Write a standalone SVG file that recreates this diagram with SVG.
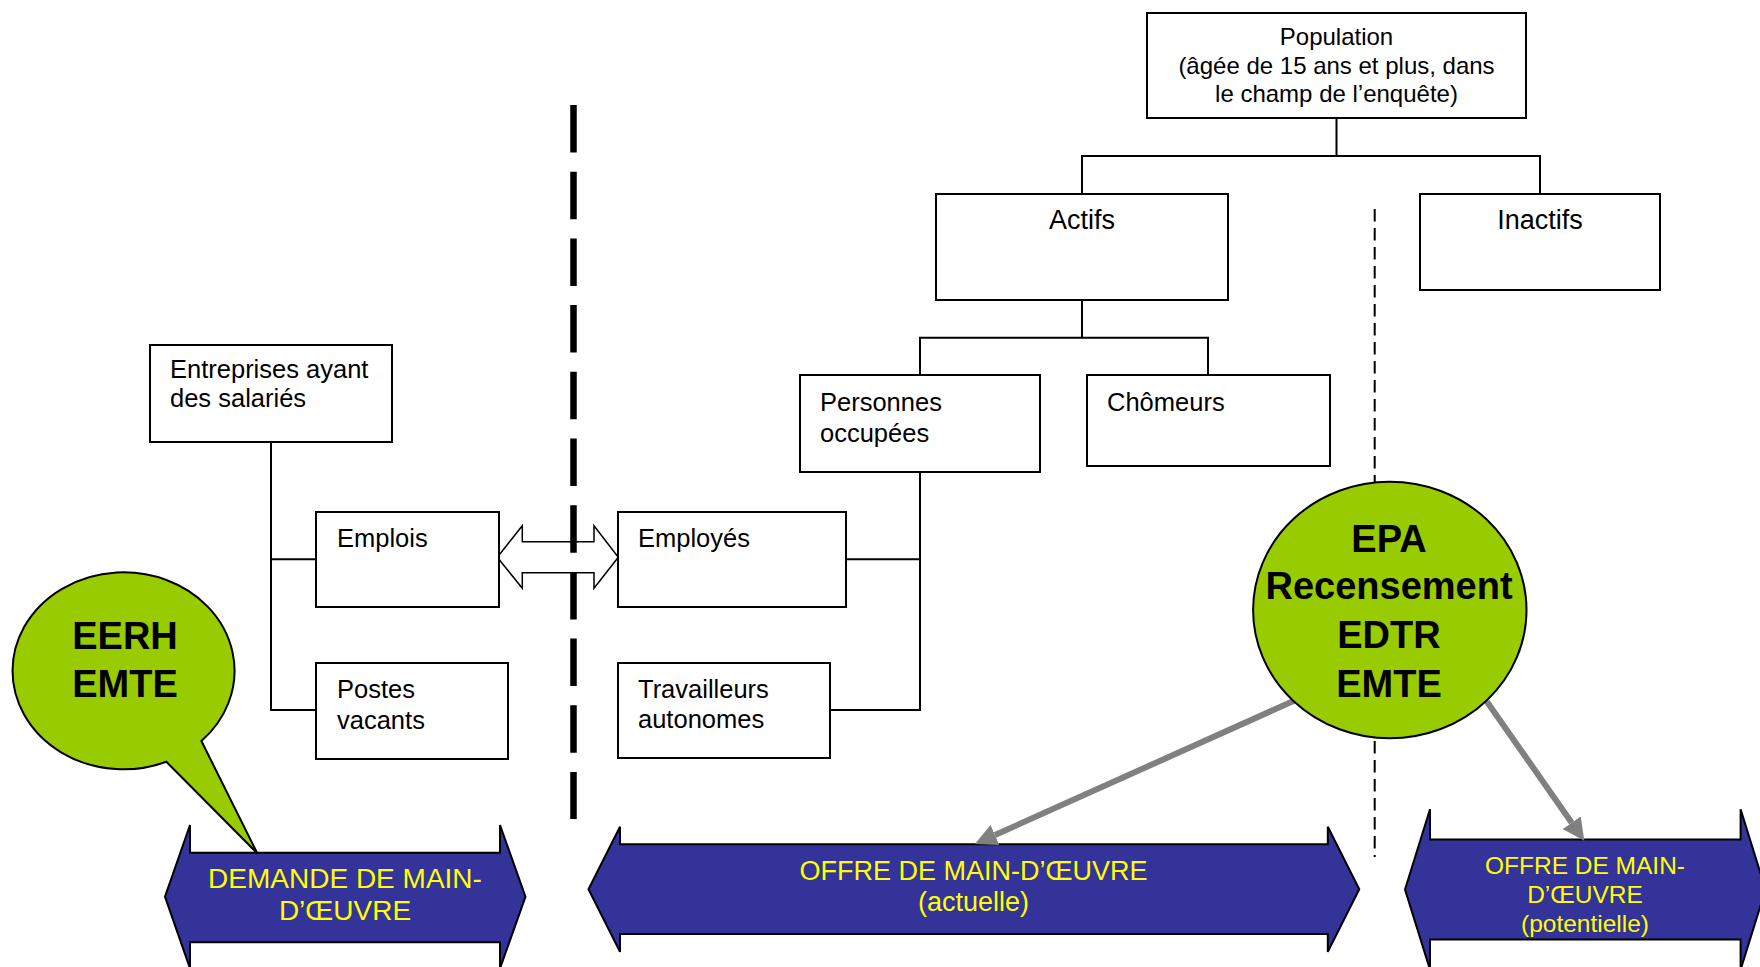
<svg xmlns="http://www.w3.org/2000/svg" width="1760" height="967" viewBox="0 0 1760 967">
<style>
  .box { fill: #ffffff; stroke: #000000; stroke-width: 2; }
  .lbl { font-family: "Liberation Sans", Arial, sans-serif; font-size: 25.5px; fill: #000000; }
  .pop { font-family: "Liberation Sans", Arial, sans-serif; font-size: 24px; fill: #000000; text-anchor: middle; }
  .big { font-family: "Liberation Sans", Arial, sans-serif; font-size: 27px; fill: #000000; text-anchor: middle; }
  .bub { fill: #99CC00; stroke: #000000; stroke-width: 2; }
  .bubtxt { font-family: "Liberation Sans", Arial, sans-serif; font-size: 38px; font-weight: bold; fill: #000000; text-anchor: middle; }
  .band { fill: #333399; stroke: #000000; stroke-width: 2; stroke-linejoin: miter; }
  .bandtxt { font-family: "Liberation Sans", Arial, sans-serif; fill: #FFFF00; text-anchor: middle; }
  .conn { fill: none; stroke: #000000; stroke-width: 2; }
  .gray { fill: none; stroke: #808080; stroke-width: 6; }
</style>
<defs>
  <marker id="grayhead" markerUnits="userSpaceOnUse" viewBox="0 0 22 22" markerWidth="22" markerHeight="22" refX="0" refY="11" orient="auto">
    <path d="M0,0 L22,11 L0,22 Z" fill="#808080"/>
  </marker>
</defs>

<!-- bottom bands -->
<g id="demande">
  <polygon class="band" points="165,896.7 190,825 190,852.7 500,852.7 500,825 525.5,896.7 500,968.4 500,942.3 190,942.3 190,968.4"/>
  <text class="bandtxt" x="345" y="888.3" font-size="28">DEMANDE DE MAIN-</text>
  <text class="bandtxt" x="345" y="919.5" font-size="28">D’ŒUVRE</text>
</g>
<g id="offre-actuelle">
  <polygon class="band" points="588.5,889.3 620,826.7 620,844.2 1327.8,844.2 1327.8,826.7 1359.3,889.3 1327.8,951.9 1327.8,934 620,934 620,951.9"/>
  <text class="bandtxt" x="973.5" y="880" font-size="27">OFFRE DE MAIN-D’ŒUVRE</text>
  <text class="bandtxt" x="973.5" y="910.5" font-size="27">(actuelle)</text>
</g>
<g id="offre-potentielle">
  <polygon class="band" points="1405,889.5 1430,809.3 1430,839.6 1740.6,839.6 1740.6,809.3 1765.6,889.5 1740.6,969.7 1740.6,939.4 1430,939.4 1430,969.7"/>
  <text class="bandtxt" x="1585" y="874" font-size="24.5">OFFRE DE MAIN-</text>
  <text class="bandtxt" x="1585" y="902.7" font-size="24.5">D’ŒUVRE</text>
  <text class="bandtxt" x="1585" y="931.5" font-size="24.5">(potentielle)</text>
</g>

<!-- connectors -->
<g id="connectors">
  <polyline class="conn" points="1336.5,118 1336.5,156"/>
  <polyline class="conn" points="1082,194 1082,156 1540,156 1540,194"/>
  <polyline class="conn" points="1082,300 1082,337.7"/>
  <polyline class="conn" points="920,375 920,337.7 1208,337.7 1208,375"/>
  <polyline class="conn" points="920,472 920,710 830,710"/>
  <polyline class="conn" points="846,559.3 920,559.3"/>
  <polyline class="conn" points="271,442 271,710 316,710"/>
  <polyline class="conn" points="271,559.3 316,559.3"/>
  <polygon fill="#ffffff" stroke="#000000" stroke-width="1.5" points="497.3,557.3 522.3,525.7 522.3,541.7 594,541.7 594,525.7 618.3,557.3 594,588.3 594,572.7 522.3,572.7 522.3,588.3"/>
  <line x1="573.5" y1="105" x2="573.5" y2="819" stroke="#000000" stroke-width="6.5" stroke-dasharray="47.5 19.2"/>
  <line x1="1374.7" y1="209" x2="1374.7" y2="857" stroke="#000000" stroke-width="2" stroke-dasharray="12.5 6.5"/>
  <line class="gray" x1="1294.5" y1="700.5" x2="995" y2="835" marker-end="url(#grayhead)"/>
  <line class="gray" x1="1487" y1="701.7" x2="1571.7" y2="822.7" marker-end="url(#grayhead)"/>
</g>

<!-- boxes -->
<g id="population">
  <rect class="box" x="1147" y="13" width="379" height="105"/>
  <text class="pop" x="1336.5" y="45">Population</text>
  <text class="pop" x="1336.5" y="74">(âgée de 15 ans et plus, dans</text>
  <text class="pop" x="1336.5" y="102">le champ de l’enquête)</text>
</g>
<g id="actifs">
  <rect class="box" x="936" y="194" width="292" height="106"/>
  <text class="big" x="1082" y="229">Actifs</text>
</g>
<g id="inactifs">
  <rect class="box" x="1420" y="194" width="240" height="96"/>
  <text class="big" x="1540" y="229">Inactifs</text>
</g>
<g id="personnes-occupees">
  <rect class="box" x="800" y="375" width="240" height="97"/>
  <text class="lbl" x="820" y="411">Personnes</text>
  <text class="lbl" x="820" y="442">occupées</text>
</g>
<g id="chomeurs">
  <rect class="box" x="1087" y="375" width="243" height="91"/>
  <text class="lbl" x="1107" y="411">Chômeurs</text>
</g>
<g id="entreprises">
  <rect class="box" x="150" y="345" width="242" height="97"/>
  <text class="lbl" x="170" y="378">Entreprises ayant</text>
  <text class="lbl" x="170" y="407">des salariés</text>
</g>
<g id="emplois">
  <rect class="box" x="316" y="512" width="183" height="95"/>
  <text class="lbl" x="337" y="547">Emplois</text>
</g>
<g id="postes-vacants">
  <rect class="box" x="316" y="663" width="192" height="96"/>
  <text class="lbl" x="337" y="698">Postes</text>
  <text class="lbl" x="337" y="729">vacants</text>
</g>
<g id="employes">
  <rect class="box" x="618" y="512" width="228" height="95"/>
  <text class="lbl" x="638" y="547">Employés</text>
</g>
<g id="travailleurs-autonomes">
  <rect class="box" x="618" y="663" width="212" height="95"/>
  <text class="lbl" x="638" y="698">Travailleurs</text>
  <text class="lbl" x="638" y="728">autonomes</text>
</g>

<!-- callouts -->
<g id="eerh-bubble">
  <path class="bub" d="M201.4,741 L257.3,853.3 L166.3,761.7 A111,98.5 0 1 1 201.4,741 Z"/>
  <text class="bubtxt" x="125" y="649">EERH</text>
  <text class="bubtxt" x="125" y="697">EMTE</text>
</g>
<g id="epa-circle">
  <ellipse class="bub" cx="1389.8" cy="610" rx="136.7" ry="128.3"/>
  <text class="bubtxt" x="1389" y="551.7">EPA</text>
  <text class="bubtxt" x="1389" y="599.3">Recensement</text>
  <text class="bubtxt" x="1389" y="647.7">EDTR</text>
  <text class="bubtxt" x="1389" y="696.7">EMTE</text>
</g>
</svg>
